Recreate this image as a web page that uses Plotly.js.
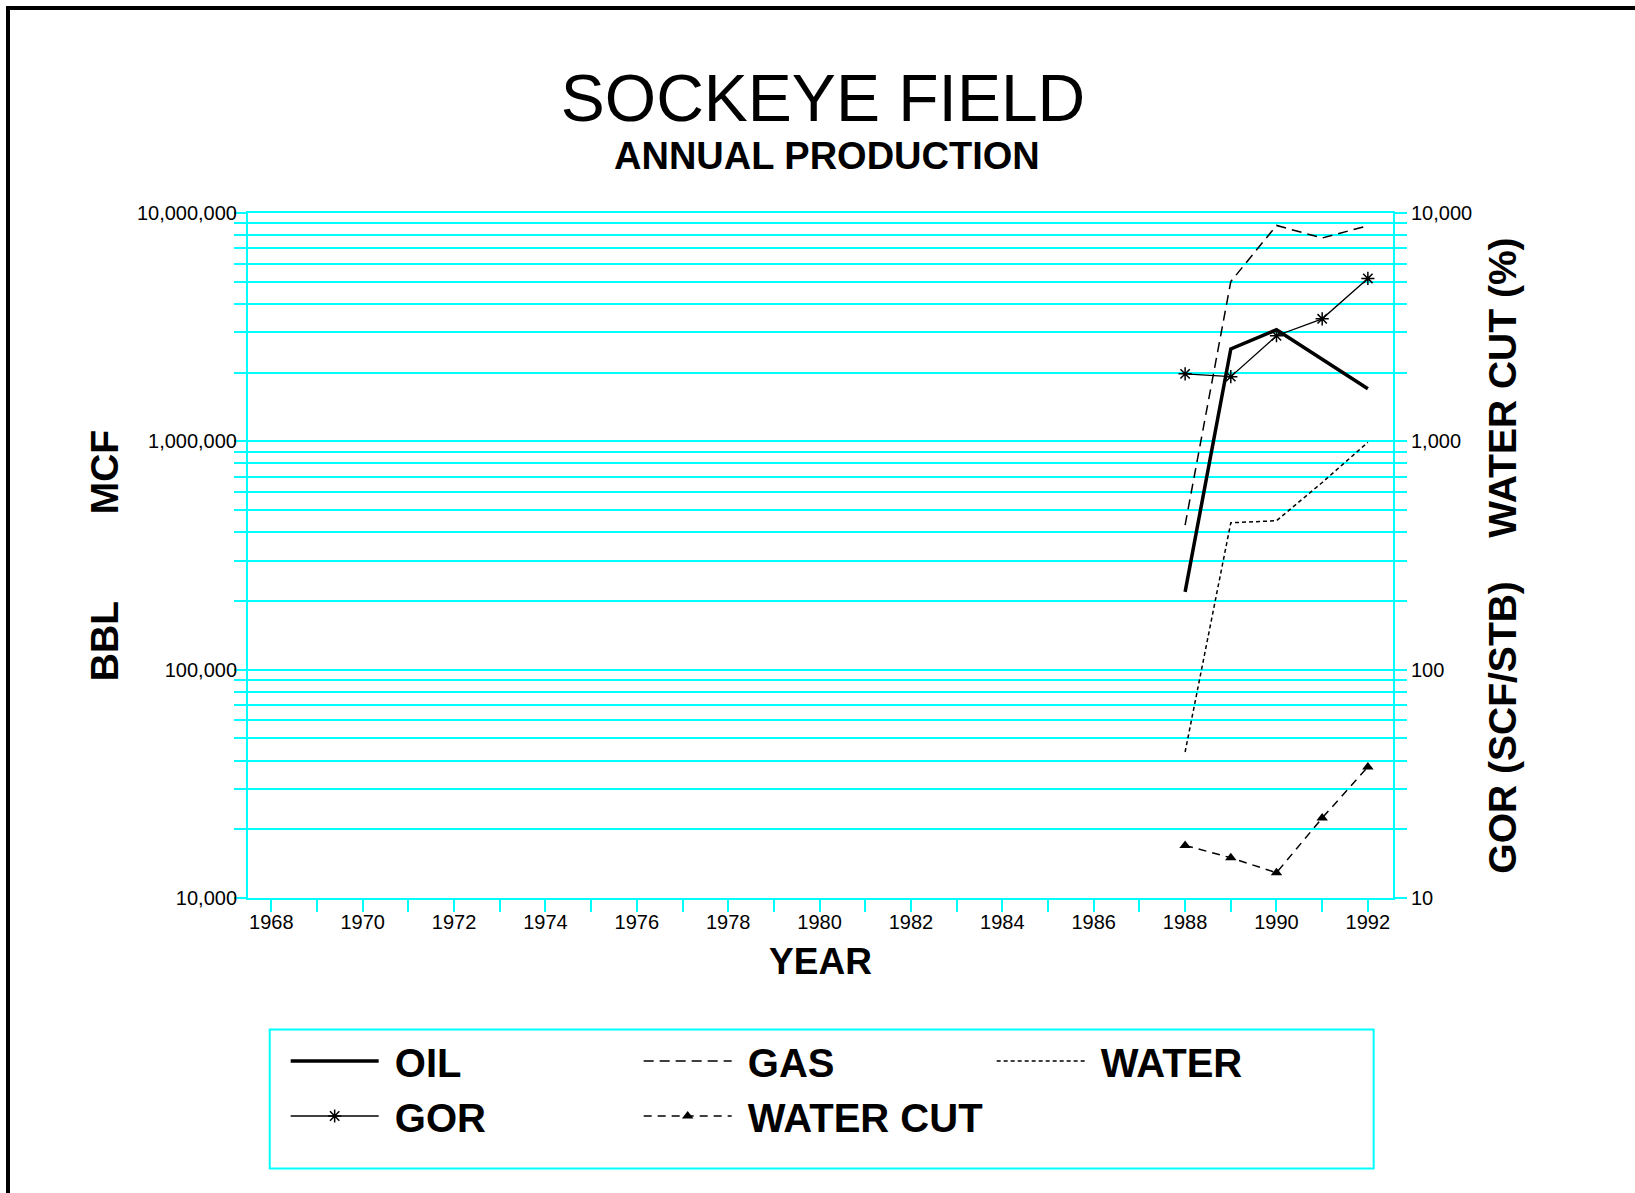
<!DOCTYPE html>
<html>
<head>
<meta charset="utf-8">
<script src="https://cdn.plot.ly/plotly-3.0.1.min.js"></script>
<style>
  html, body { margin: 0; padding: 0; background: #fff; }
  #chart { width: 1635px; height: 1193px; }
  #frame { position: absolute; left: 6px; top: 6px; width: 1629px; height: 1187px;
           border-left: 4px solid #000; border-top: 4px solid #000; box-sizing: border-box; pointer-events: none; }
</style>
</head>
<body>
<div id="chart"></div>
<div id="frame"></div>
<script>
// ---- data ----
const years = [1988, 1989, 1990, 1991, 1992];
const oilBbl = [219000, 2540000, 3080000, 2300000, 1700000];
const gasMcf = [430000, 5010000, 8820000, 7770000, 8800000];
const waterBbl = [43600, 440000, 449000, 660000, 990000];
const gorScfStb = [1975, 1920, 2900, 3440, 5170];
const waterCutPct = [17.0, 15.0, 12.9, 22.4, 37.5];

const seriesNames = ['OIL', 'GAS', 'WATER', 'GOR', 'WATER CUT'];

const leftTickVals = [10000, 100000, 1000000, 10000000];
const leftTickText = ['10,000', '100,000', '1,000,000', '10,000,000'];
const rightTickVals = [10, 100, 1000, 10000];
const rightTickText = ['10', '100', '1,000', '10,000'];

const CY = '#00FFFF';
const FONT = 'Liberation Sans, Arial, Helvetica, sans-serif';
const NB = '\u00A0';

const traces = [
  { x: years, y: oilBbl, name: NB + seriesNames[0], type: 'scatter', mode: 'lines', yaxis: 'y',
    line: { color: '#000', width: 3.5 } },
  { x: years, y: gasMcf, name: NB + seriesNames[1], type: 'scatter', mode: 'lines', yaxis: 'y',
    line: { color: '#000', width: 1.5, dash: '10px,6px' } },
  { x: years, y: waterBbl, name: NB + seriesNames[2], type: 'scatter', mode: 'lines', yaxis: 'y',
    line: { color: '#000', width: 1.5, dash: '4px,3px' } },
  { x: years, y: gorScfStb, name: NB + seriesNames[3], type: 'scatter', mode: 'lines+markers', yaxis: 'y2',
    line: { color: '#000', width: 1.3 },
    marker: { symbol: 'asterisk-open', size: 11, color: '#000', line: { color: '#000', width: 1.5 } } },
  { x: years, y: waterCutPct, name: NB + seriesNames[4], type: 'scatter', mode: 'lines+markers', yaxis: 'y2',
    line: { color: '#000', width: 1.5, dash: '8px,6px' },
    marker: { symbol: 'triangle-up', size: 10, color: '#000' } }
];

const tickCommon = { ticks: 'outside', ticklen: 12, tickwidth: 2, tickcolor: CY };

const layout = {
  width: 1635, height: 1193,
  margin: { l: 248, r: 242, t: 213, b: 295, pad: 0, autoexpand: false },
  paper_bgcolor: '#fff', plot_bgcolor: '#fff',
  font: { family: FONT, color: '#000', size: 20 },
  title: {
    text: 'SOCKEYE FIELD',
    font: { family: FONT, size: 66, color: '#000' },
    x: 0.5034, xref: 'container', xanchor: 'center',
    y: 0.9183, yref: 'container', yanchor: 'middle'
  },
  annotations: [{
    text: 'ANNUAL PRODUCTION', showarrow: false,
    xref: 'paper', yref: 'paper', x: 0.5059, y: 1.0826, xanchor: 'center', yanchor: 'middle',
    font: { family: FONT, size: 38, weight: 'bold', color: '#000' }
  }],
  shapes: [{
    type: 'rect', xref: 'paper', yref: 'paper', x0: 0.019, x1: 0.9831, y0: -0.3949, y1: -0.1918,
    line: { color: CY, width: 2 }, fillcolor: 'rgba(0,0,0,0)', layer: 'above'
  }],
  xaxis: Object.assign({
    range: [1967.49, 1992.55], tickmode: 'linear', tick0: 1968, dtick: 2,
    showline: true, linecolor: CY, linewidth: 2, mirror: true,
    showgrid: false, zeroline: false, tickfont: { size: 20 },
    ticklabelstandoff: -7,
    minor: { dtick: 1, tick0: 1967, ticks: 'outside', ticklen: 12, tickwidth: 2, tickcolor: CY, showgrid: false },
    title: { text: 'YEAR', font: { size: 37, weight: 'bold' }, standoff: 16 }
  }, tickCommon),
  yaxis: Object.assign({
    type: 'log', range: [4, 7], tickmode: 'array', tickvals: leftTickVals, ticktext: leftTickText,
    showgrid: true, gridcolor: CY, gridwidth: 2,
    showline: true, linecolor: CY, linewidth: 2, zeroline: false, tickfont: { size: 20 },
    ticklabelstandoff: -7,
    minor: { dtick: 'D1', ticks: 'outside', ticklen: 12, tickwidth: 2, tickcolor: CY,
             showgrid: true, gridcolor: CY, gridwidth: 2 },
    title: { text: 'BBL' + NB.repeat(8) + 'MCF', font: { size: 39, weight: 'bold' }, standoff: 6 }
  }, tickCommon),
  yaxis2: Object.assign({
    type: 'log', range: [1, 4], overlaying: 'y', side: 'right',
    tickmode: 'array', tickvals: rightTickVals, ticktext: rightTickText,
    showgrid: false, showline: true, linecolor: CY, linewidth: 2, zeroline: false, tickfont: { size: 20 },
    minor: { dtick: 'D1', ticks: 'outside', ticklen: 12, tickwidth: 2, tickcolor: CY, showgrid: false },
    title: { text: 'GOR (SCF/STB)' + NB.repeat(4) + 'WATER CUT (%)', font: { size: 39, weight: 'bold' }, standoff: 18 }
  }, tickCommon),
  showlegend: true,
  legend: {
    orientation: 'h', x: 0.0329, y: -0.1905, xanchor: 'left', yanchor: 'top',
    borderwidth: 0, bgcolor: 'rgba(0,0,0,0)',
    font: { family: FONT, size: 40, weight: 'bold', color: '#000' },
    entrywidth: 250, entrywidthmode: 'pixels', itemwidth: 88, traceorder: 'normal'
  }
};

Plotly.newPlot('chart', traces, layout, { displayModeBar: false, staticPlot: true });
</script>
</body>
</html>
